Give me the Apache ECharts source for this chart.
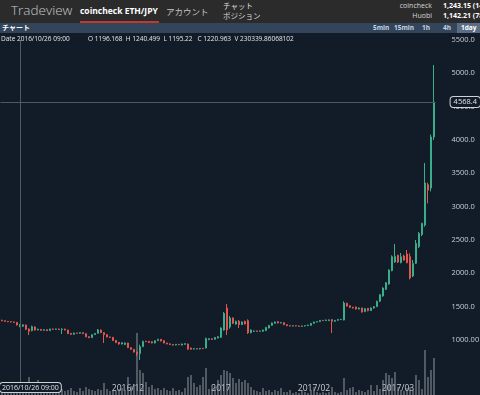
<!DOCTYPE html>
<html><head><meta charset="utf-8">
<script src="https://cdn.jsdelivr.net/npm/echarts@6/dist/echarts.min.js"></script>
<style>
html,body{margin:0;padding:0;}
body{width:480px;height:395px;overflow:hidden;background:#121c29;font-family:"Open Sans","Noto Sans CJK JP",sans-serif;position:relative;}
#chart{position:absolute;left:0;top:0;width:480px;height:395px;}
.ov{position:absolute;left:0;top:0;width:480px;height:44px;pointer-events:none;z-index:5;}
.bar1{position:absolute;left:0;top:0;width:480px;height:23px;background:#2b2b2b;}
.bar2{position:absolute;left:0;top:23px;width:480px;height:10px;background:#33455a;}
.t{position:absolute;white-space:nowrap;line-height:1;}
.jp{font-family:"Noto Sans CJK JP",sans-serif;}
</style></head>
<body>
<div id="chart"></div>
<div class="ov">
  <div class="bar1">
    <span class="t" style="left:11px;top:4px;font-size:13.5px;color:#c9c9c9;font-weight:300;">Tradeview</span>
    <span class="t" style="left:80px;top:7px;font-size:8.5px;color:#ffffff;font-weight:bold;">coincheck ETH/JPY</span>
    <div style="position:absolute;left:80px;top:21px;width:79px;height:2px;background:#c0392b;"></div>
    <span class="t jp" style="left:166px;top:7px;font-size:8.5px;color:#c4c4c4;">アカウント</span>
    <span class="t jp" style="left:223px;top:2px;font-size:7.5px;color:#dddddd;">チャット</span>
    <span class="t jp" style="left:223px;top:12px;font-size:7.5px;color:#dddddd;">ポジション</span>
    <span class="t" style="right:48px;top:2px;font-size:7px;color:#d8d8d8;">coincheck</span>
    <span class="t" style="left:443px;top:2px;font-size:7px;color:#ffffff;font-weight:bold;">1,243.15 (14</span>
    <span class="t" style="right:48px;top:12px;font-size:7px;color:#d8d8d8;">Huobi</span>
    <span class="t" style="left:443px;top:12px;font-size:7px;color:#ffffff;font-weight:bold;">1,142.21 (785</span>
  </div>
  <div class="bar2">
    <span class="t jp" style="left:2px;top:1px;font-size:7px;color:#ffffff;font-weight:bold;">チャート</span>
    <span class="t" style="left:373px;top:1.5px;font-size:6.5px;color:#c6d4e2;font-weight:bold;">5min</span>
    <span class="t" style="left:394px;top:1.5px;font-size:6.5px;color:#c6d4e2;font-weight:bold;">15min</span>
    <span class="t" style="left:422px;top:1.5px;font-size:6.5px;color:#c6d4e2;font-weight:bold;">1h</span>
    <span class="t" style="left:443px;top:1.5px;font-size:6.5px;color:#c6d4e2;font-weight:bold;">4h</span>
    <div style="position:absolute;left:457px;top:0;width:23px;height:10px;background:#5a6d84;"></div>
    <span class="t" style="left:461px;top:1.5px;font-size:6.5px;color:#ffffff;font-weight:bold;">1day</span>
  </div>
  <span class="t" style="left:1px;top:36px;font-size:6.5px;color:#e8e8e8;">Date 2016/10/26 09:00</span>
  <span class="t" style="left:88px;top:36px;font-size:6.5px;color:#e8e8e8;">O 1196.168 &nbsp;H 1240.499 &nbsp;L 1195.22 &nbsp;&nbsp;C 1220.963 &nbsp;V 230339.86068102</span>
</div>
<script>
// ---- data ----
const startDate = '2016-10-20';
const dayCount = 145;
const crossDate = '2016/10/26';
const crossPrice = 4568.4;
const priceTicks = [1000,1500,2000,2500,3000,3500,4000,4500,5000,5500];

// [open, close, low, high] per day, JPY
const ohlc = [
[1295,1290,1280,1305],[1290,1280,1272,1292],[1280,1275,1268,1285],[1275,1272,1265,1280],[1270,1265,1258,1275],
[1265,1225,1218,1268],[1196.168,1220.963,1195.22,1240.499],[1205,1228,1198,1235],[1225,1160,1150,1230],[1165,1130,1075,1175],
[1140,1200,1130,1215],[1195,1150,1140,1205],[1150,1162,1145,1168],[1160,1145,1140,1165],[1145,1155,1140,1160],
[1155,1140,1135,1160],[1140,1165,1138,1170],[1165,1160,1155,1170],[1160,1166,1155,1172],[1165,1155,1150,1170],
[1158,1165,1090,1175],[1165,1150,1145,1168],[1150,1095,1090,1152],[1100,1085,1078,1105],[1085,1105,1080,1110],
[1105,1100,1095,1108],[1100,1112,1096,1118],[1110,1095,1090,1114],[1095,1048,1042,1098],[1050,1035,1028,1055],
[1035,1080,1030,1085],[1080,1100,1075,1105],[1100,1150,1095,1165],[1150,1110,1105,1155],[1110,1080,955,1115],
[1080,1045,1040,1085],[1045,1040,1032,1050],[1040,992,985,1045],[995,960,955,1000],[965,940,930,970],
[940,960,935,965],[930,955,925,962],[955,885,880,958],[885,860,855,890],[860,820,812,865],
[820,790,760,825],[795,900,700,930],[900,980,895,990],[980,976,968,988],[980,962,955,985],
[975,955,950,980],[955,990,950,995],[990,1010,985,1018],[1010,985,980,1012],[990,955,950,995],
[955,942,935,960],[942,932,925,948],[932,925,918,936],[925,936,920,940],[936,930,925,940],
[925,940,920,945],[935,946,930,950],[940,862,855,945],[880,862,855,885],[865,870,860,876],
[870,865,860,874],[865,875,860,880],[875,870,864,880],[880,1025,875,1035],[1005,1020,998,1028],
[1020,1010,1002,1026],[1010,1040,1005,1045],[1030,1050,1025,1058],[1040,1180,1030,1190],[1150,1400,1140,1420],
[1480,1150,1075,1540],[1195,1330,1170,1360],[1330,1250,1240,1340],[1240,1280,1230,1290],[1280,1230,1180,1300],
[1230,1270,1225,1280],[1280,1240,1235,1290],[1290,1110,1090,1310],[1110,1150,1100,1158],[1130,1135,1125,1140],
[1135,1130,1125,1140],[1130,1136,1126,1140],[1130,1150,1126,1155],[1140,1190,1135,1195],[1180,1220,1175,1225],
[1220,1255,1215,1262],[1250,1270,1245,1278],[1275,1255,1250,1280],[1255,1262,1250,1268],[1260,1230,1225,1265],
[1230,1215,1208,1235],[1215,1210,1205,1220],[1210,1215,1206,1220],[1215,1210,1205,1218],[1210,1205,1200,1215],
[1205,1210,1200,1215],[1210,1216,1205,1220],[1215,1225,1210,1230],[1220,1250,1215,1255],[1250,1270,1245,1275],
[1270,1276,1265,1282],[1275,1295,1270,1300],[1295,1290,1285,1300],[1290,1300,1285,1306],[1290,1302,1286,1308],
[1305,1280,1105,1315],[1280,1295,1275,1300],[1295,1310,1290,1315],[1305,1310,1300,1316],[1300,1555,1295,1580],
[1550,1510,1500,1560],[1515,1490,1480,1520],[1490,1482,1470,1498],[1495,1465,1455,1500],[1465,1480,1458,1488],
[1480,1420,1410,1485],[1425,1470,1418,1478],[1475,1440,1430,1480],[1440,1480,1435,1488],[1480,1500,1472,1510],
[1500,1580,1495,1590],[1580,1680,1570,1690],[1660,1780,1650,1790],[1760,1860,1750,1870],[1840,2050,1830,2060],
[2040,2250,2030,2270],[2170,2255,2160,2440],[2270,2170,2155,2280],[2160,2250,2150,2305],[2260,2200,2190,2280],
[2290,2160,2150,2350],[2250,1930,1910,2300],[1960,2150,1945,2200],[2150,2450,2140,2500],[2400,2600,2380,2620],
[2580,2750,2560,2760],[2725,3355,2700,3655],[3330,3250,3050,3360],[3280,4045,3230,4080],[4045,4568.4,4000,5125]
];

// daily volume, thousand ETH
const volumes = [
92,138,69,115,92,161,230.34,138,207,414,
184,138,345,115,92,69,115,92,69,184,
138,92,115,161,92,69,161,92,184,138,
115,92,138,115,276,138,92,115,92,138,
161,115,414,207,253,1426,575,506,299,184,
230,138,161,115,161,115,92,161,92,115,
69,161,414,460,276,184,230,414,621,138,
230,184,345,460,575,552,506,391,276,368,
299,345,276,184,115,92,69,161,92,115,
69,115,92,161,69,69,115,46,69,46,
115,69,46,115,184,69,46,69,46,69,
184,69,46,69,391,115,161,184,69,115,
92,69,115,230,92,230,138,345,506,460,
391,529,184,115,92,161,184,115,460,345,
138,1035,414,575,851
];

// ---- categories ----
const dates = [];
{
  const d0 = new Date(startDate + 'T00:00:00Z');
  for (let i = 0; i < dayCount; i++) {
    const d = new Date(d0.getTime() + i * 86400000);
    const y = d.getUTCFullYear(), m = String(d.getUTCMonth()+1).padStart(2,'0'), dd = String(d.getUTCDate()).padStart(2,'0');
    dates.push(y + '/' + m + '/' + dd);
  }
}
const crossIdx = dates.indexOf(crossDate);

const BG = '#121c29';
const UP = '#3aae8a';
const DOWN = '#e2564e';
const GRID_LEFT = 0.5, GRID_W = 435;

const chart = echarts.init(document.getElementById('chart'), null, {renderer:'canvas'});
chart.setOption({
  backgroundColor: BG,
  animation: false,
  textStyle: {fontFamily: '"Open Sans", sans-serif'},
  grid: [
    {left: GRID_LEFT, width: GRID_W, top: 40, height: 366.67, outerBoundsMode: 'none', containLabel: false},
    {left: GRID_LEFT, width: GRID_W, bottom: 0, height: 80, outerBoundsMode: 'none', containLabel: false}
  ],
  xAxis: [
    {type: 'category', gridIndex: 0, data: dates, boundaryGap: true,
     axisLine: {show: false}, axisTick: {show: false}, axisLabel: {show: false}, splitLine: {show: false},
     axisPointer: {show: true, status: 'show', value: crossIdx, type: 'line', triggerTooltip: false,
       lineStyle: {color: '#4d5966', width: 1, type: 'solid'}, label: {show: false}}},
    {type: 'category', gridIndex: 1, data: dates, boundaryGap: true, offset: -13,
     axisLine: {show: false}, axisTick: {show: false}, splitLine: {show: false},
     axisLabel: {
       color: '#c9cdd2', fontSize: 8.5, margin: 2,
       interval: function (idx, val) { return val.slice(8) === '01' && val.slice(5,7) !== '11'; },
       formatter: function (val) { return val.slice(5,7) === '01' ? val.slice(0,4) : val.slice(0,7); }
     },
     axisPointer: {show: true, status: 'show', value: crossIdx, type: 'line', triggerTooltip: false,
       lineStyle: {color: '#4d5966', width: 1, type: 'solid'},
       label: {show: true, margin: 1, formatter: function (p) { return p.value + ' 09:00'; },
         backgroundColor: BG, borderColor: '#cfd3d8', borderWidth: 1, color: '#dfe3e7',
         fontSize: 7, padding: [1, 2, 1, 2]}}}
  ],
  yAxis: [
    {type: 'value', gridIndex: 0, position: 'right', min: 0, max: priceTicks[priceTicks.length-1], interval: 500,
     axisLine: {show: false}, axisTick: {show: false}, splitLine: {show: false},
     axisLabel: {color: '#c9cdd2', fontSize: 7.5, margin: 16,
       formatter: function (v) { if (priceTicks.indexOf(v) < 0) return ''; return v === 1000 ? '1000.00' : v.toFixed(1); }},
     axisPointer: {show: true, status: 'show', value: crossPrice, type: 'line', triggerTooltip: false,
       lineStyle: {color: '#4d5966', width: 1, type: 'solid'},
       label: {show: true, margin: 17, formatter: function (p) { return Number(p.value).toFixed(1); },
         backgroundColor: BG, borderColor: '#cfd3d8', borderWidth: 1, color: '#dfe3e7',
         fontSize: 7.5, padding: [1, 3, 1, 3]}}},
    {type: 'value', gridIndex: 1, min: 0, max: 1840, show: false, splitLine: {show: false}}
  ],
  series: [
    {type: 'bar', name: 'Volume', xAxisIndex: 1, yAxisIndex: 1, data: volumes, barWidth: '55%', silent: true,
     itemStyle: {color: 'rgba(145,151,158,0.6)'}},
    {type: 'candlestick', name: 'ETH/JPY', xAxisIndex: 0, yAxisIndex: 0, data: ohlc, barWidth: '72%',
     itemStyle: {color: BG, color0: DOWN, borderColor: UP, borderColor0: DOWN, borderWidth: 1}}
  ]
});
</script>
</body></html>
